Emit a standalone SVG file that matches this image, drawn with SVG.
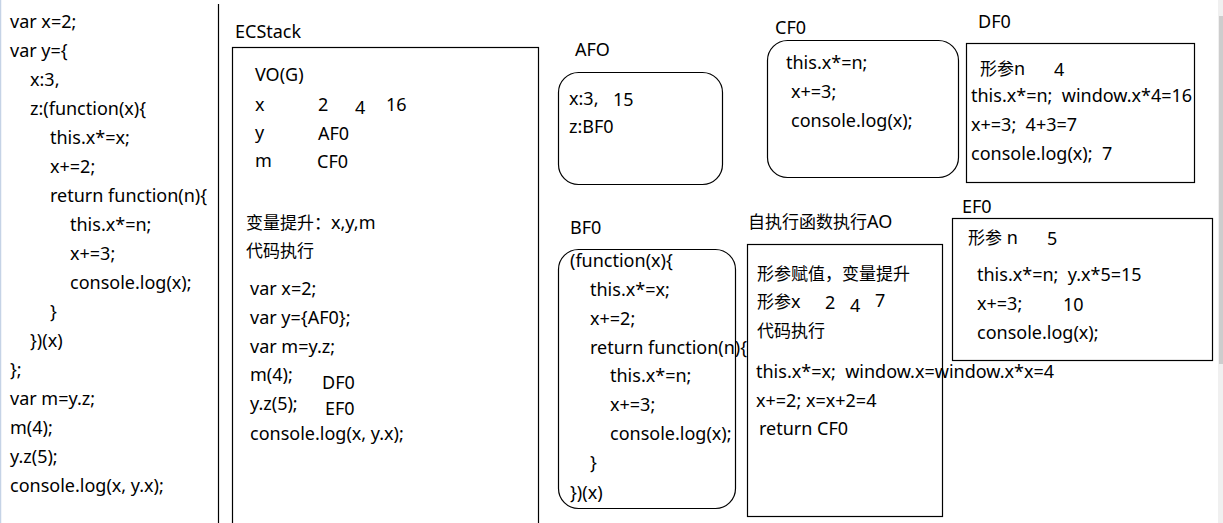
<svg xmlns="http://www.w3.org/2000/svg" width="1223" height="523" viewBox="0 0 1223 523">
<style>
text{font-family:"Noto Sans","Noto Sans CJK SC",sans-serif;font-size:18px;fill:#000;white-space:pre}
.c{font-family:"Noto Sans CJK SC",sans-serif;font-size:17px}
.box{fill:none;stroke:#000;stroke-width:1.2}
</style>
<rect width="1223" height="523" fill="#fff"/>
<line x1="0.5" y1="0" x2="0.5" y2="523" stroke="#c5d3e6" stroke-width="1.5"/>
<rect x="1218" y="0" width="5" height="523" fill="#f0f0f0"/>
<rect x="1219" y="16" width="4" height="348" fill="#cdcdcd"/>

<g id="code">
<text x="10" y="28">var x=2;</text>
<text x="10" y="57">var y={</text>
<text x="30" y="86">x:3,</text>
<text x="30" y="115">z:(function(x){</text>
<text x="50" y="144">this.x*=x;</text>
<text x="50" y="173">x+=2;</text>
<text x="50" y="202">return function(n){</text>
<text x="70" y="231">this.x*=n;</text>
<text x="70" y="260">x+=3;</text>
<text x="70" y="289">console.log(x);</text>
<text x="50" y="318">}</text>
<text x="30" y="347">})(x)</text>
<text x="10" y="376">};</text>
<text x="10" y="405">var m=y.z;</text>
<text x="10" y="434">m(4);</text>
<text x="10" y="463">y.z(5);</text>
<text x="10" y="492">console.log(x, y.x);</text>
</g>
<line x1="218.5" y1="4" x2="218.5" y2="523" stroke="#000" stroke-width="1.2"/>

<g id="ecstack">
<text x="235" y="38">ECStack</text>
<rect class="box" x="232.5" y="47.5" width="306" height="480"/>
<text x="255" y="81">VO(G)</text>
<text x="255" y="111">x</text>
<text x="318" y="111">2</text>
<text x="355" y="114">4</text>
<text x="386" y="111">16</text>
<text x="255" y="139">y</text>
<text x="318" y="140">AF0</text>
<text x="255" y="167">m</text>
<text x="317" y="168">CF0</text>
<text x="246" y="229"><tspan class="c">变量提升：</tspan>x,y,m</text>
<text x="246" y="257" class="c">代码执行</text>
<text x="250" y="295">var x=2;</text>
<text x="250" y="324">var y={AF0};</text>
<text x="250" y="353">var m=y.z;</text>
<text x="250" y="381">m(4);</text>
<text x="322" y="389">DF0</text>
<text x="250" y="410">y.z(5);</text>
<text x="325" y="415">EF0</text>
<text x="250" y="440">console.log(x, y.x);</text>
</g>

<g id="afo">
<text x="575" y="56">AFO</text>
<rect class="box" x="558.5" y="72.5" width="164" height="112" rx="20"/>
<text x="569" y="105">x:3,</text>
<text x="613" y="106">15</text>
<text x="569" y="133">z:BF0</text>
</g>

<g id="bf0">
<text x="570" y="234">BF0</text>
<rect class="box" x="558.5" y="249.5" width="177" height="259" rx="20"/>
<text x="570" y="267">(function(x){</text>
<text x="590" y="296">this.x*=x;</text>
<text x="590" y="325">x+=2;</text>
<text x="590" y="354">return function(n){</text>
<text x="610" y="382">this.x*=n;</text>
<text x="610" y="411">x+=3;</text>
<text x="610" y="440">console.log(x);</text>
<text x="590" y="469">}</text>
<text x="570" y="499">})(x)</text>
</g>

<g id="cf0">
<text x="775" y="34">CF0</text>
<rect class="box" x="767.5" y="40.5" width="191" height="137" rx="20"/>
<text x="786" y="69">this.x*=n;</text>
<text x="791" y="98">x+=3;</text>
<text x="791" y="127">console.log(x);</text>
</g>

<g id="df0">
<text x="978" y="28">DF0</text>
<rect class="box" x="966.5" y="43.5" width="228" height="139"/>
<text x="980" y="75"><tspan class="c">形参</tspan>n</text>
<text x="1054" y="76">4</text>
<text x="971" y="102">this.x*=n;  window.x*4=16</text>
<text x="971" y="131">x+=3;  4+3=7</text>
<text x="971" y="160">console.log(x);  7</text>
</g>

<g id="ao">
<text x="748" y="228"><tspan class="c">自执行函数执行</tspan>AO</text>
<rect class="box" x="747.5" y="244.5" width="195" height="272"/>
<text x="757" y="280" class="c">形参赋值，变量提升</text>
<text x="757" y="308"><tspan class="c">形参</tspan>x</text>
<text x="825" y="309">2</text>
<text x="850" y="312">4</text>
<text x="875" y="307">7</text>
<text x="757" y="337" class="c">代码执行</text>
<text x="756" y="378">this.x*=x;  window.x=window.x*x=4</text>
<text x="756" y="407">x+=2; x=x+2=4</text>
<text x="759" y="435">return CF0</text>
</g>

<g id="ef0">
<text x="962" y="213">EF0</text>
<rect class="box" x="952.5" y="218.5" width="260" height="142"/>
<text x="968" y="244"><tspan class="c">形参</tspan> n</text>
<text x="1047" y="245">5</text>
<text x="977" y="281">this.x*=n;  y.x*5=15</text>
<text x="977" y="310">x+=3;</text>
<text x="1063" y="311">10</text>
<text x="977" y="339">console.log(x);</text>
</g>

<g id="connectors"></g>
</svg>
